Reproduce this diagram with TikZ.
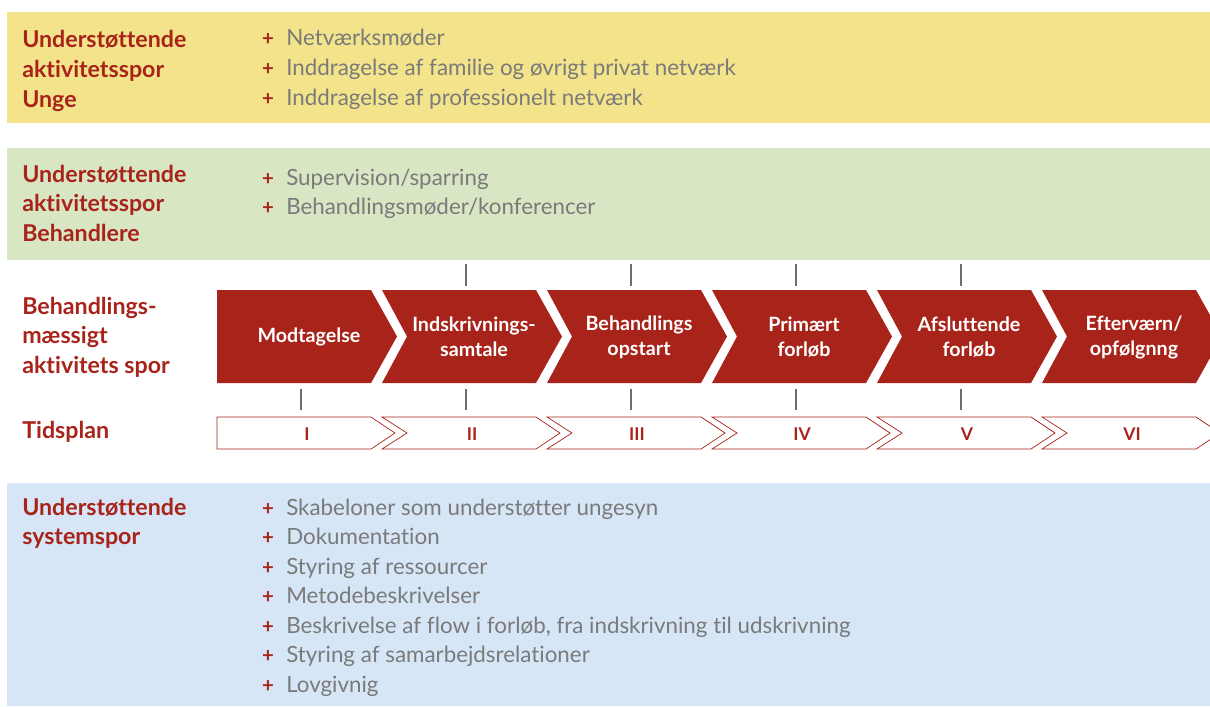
\documentclass[tikz,border=0pt]{standalone}
\usepackage{fontspec}
\setmainfont{Lato}[Ligatures=NoCommon]
\usetikzlibrary{positioning}

\definecolor{tred}{HTML}{A8231A}
\definecolor{tgrey}{HTML}{7A7A7A}
\definecolor{tyellow}{HTML}{F3E48B}
\definecolor{tgreen}{HTML}{D8E6C4}
\definecolor{tblue}{HTML}{D6E6F6}
\definecolor{tickgrey}{HTML}{6E6E6E}

\begin{document}
\begin{tikzpicture}[x=0.025cm,y=-0.025cm,
	band/.style={fill=#1, draw=none},
	lbl/.style={anchor=base west, inner sep=0pt, text=tred, font=\fontsize{16.5}{20}\selectfont\bfseries},
	item/.style={anchor=base west, inner sep=0pt, text=tgrey, font=\fontsize{15.9}{19}\selectfont},
	plus/.style={anchor=base, inner sep=0pt, text=tred, font=\fontsize{14.5}{19}\selectfont\bfseries},
	chevron/.style={fill=tred, draw=none},
	timebox/.style={fill=white, draw=tred, line width=0.5pt},
	phase/.style={align=center, text=white, inner sep=0pt, font=\fontsize{14}{17.8}\selectfont\bfseries},
	numeral/.style={text=tred, inner sep=0pt, font=\fontsize{12.5}{15}\selectfont\bfseries},
	tickline/.style={draw=tickgrey, line width=0.9pt}]
	
	\useasboundingbox (0,0) rectangle (1210,706);
	
	% baggrundsbaand
	\fill[band=tyellow] (7,12) rectangle (1210,123);
	\fill[band=tgreen] (7,148) rectangle (1210,260);
	\fill[band=tblue] (7,483) rectangle (1210,706);
	
	% unge
	\node[lbl] (unge1) at (22,47) {Understøttende};
	\node[lbl] (unge2) at (22,77) {aktivitetsspor};
	\node[lbl] (unge3) at (22,107) {Unge};
	\foreach \t [count=\k from 0] in {Netværksmøder, Inddragelse af familie og øvrigt privat netværk, Inddragelse af professionelt netværk}{
		\node[plus] (up\k) at (268,45+30*\k) {+};
		\node[item] (ui\k) at (286,45+30*\k) {\t};
	}
	
	% behandlere
	\node[lbl] (beh1) at (22,182) {Understøttende};
	\node[lbl] (beh2) at (22,211.5) {aktivitetsspor};
	\node[lbl] (beh3) at (22,241) {Behandlere};
	\foreach \t [count=\k from 0] in {Supervision/sparring, Behandlingsmøder/konferencer}{
		\node[plus] (bp\k) at (268,185+29.5*\k) {+};
		\node[item] (bi\k) at (286,185+29.5*\k) {\t};
	}
	
	% behandlingsmaessigt spor
	\node[lbl] (spor1) at (22,314) {Behandlings-};
	\node[lbl] (spor2) at (22,343.5) {mæssigt};
	\node[lbl] (spor3) at (22,373) {aktivitets spor};
	\node[lbl] (tid) at (22,438) {Tidsplan};
	
	\foreach \txt/\num [count=\k from 0] in {Modtagelse/I, {Indskrivnings-\\samtale}/II, {Behandlings\\opstart}/III, {Primært\\forløb}/IV, {Afsluttende\\forløb}/V, {Efterværn/\\opfølgnng}/VI}{
		\pgfmathsetmacro{\L}{217+165*\k}
		\ifnum\k=0
			\fill[chevron] (\L,290) -- ++(154,0) -- ++(26,46.5) -- ++(-26,46.5) -- ++(-154,0) -- cycle;
			\filldraw[timebox] (\L,417) -- ++(154,0) -- ++(24,16) -- ++(-24,16) -- ++(-154,0) -- cycle;
		\else
			\fill[chevron] (\L,290) -- ++(154,0) -- ++(26,46.5) -- ++(-26,46.5) -- ++(-154,0) -- ++(25,-46.5) -- cycle;
			\filldraw[timebox] (\L,417) -- ++(154,0) -- ++(24,16) -- ++(-24,16) -- ++(-154,0) -- ++(25,-16) -- cycle;
		\fi
		\node[phase] (fase\k) at (\L+92,337) {\txt};
		\node[numeral] (tid\k) at (\L+90,434) {\num};
		\ifnum\k>0 \ifnum\k<5
			\draw[tickline] (\L+84,264) -- (\L+84,286);
		\fi\fi
		\ifnum\k<5
			\draw[tickline] (\L+84,389) -- (\L+84,410);
		\fi
	}
	
	% systemspor
	\node[lbl] (sys1) at (22,515) {Understøttende};
	\node[lbl] (sys2) at (22,544) {systemspor};
	\foreach \t [count=\k from 0] in {Skabeloner som understøtter ungesyn, Dokumentation, Styring af ressourcer, Metodebeskrivelser, {Beskrivelse af flow i forløb, fra indskrivning til udskrivning}, Styring af samarbejdsrelationer, Lovgivnig}{
		\node[plus] (sp\k) at (268,515+29.5*\k) {+};
		\node[item] (si\k) at (286,515+29.5*\k) {\t};
	}
\end{tikzpicture}
\end{document}
